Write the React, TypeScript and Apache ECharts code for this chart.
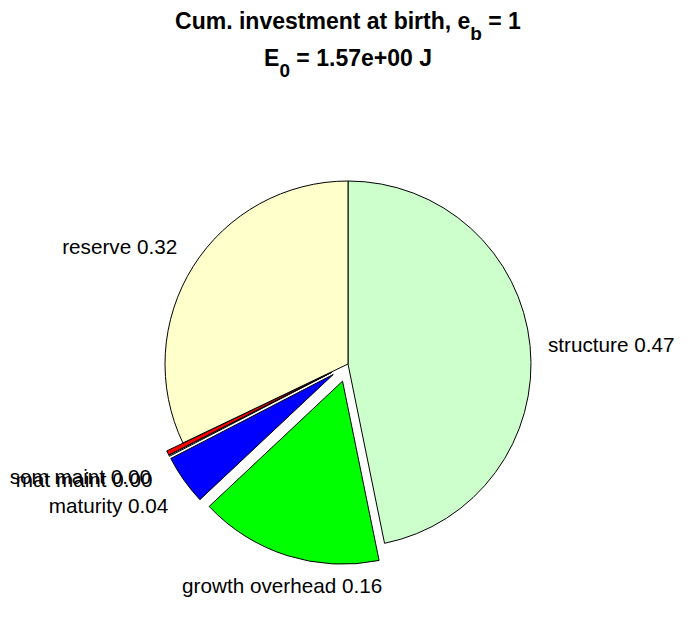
import React, { useEffect, useRef } from "react";
import * as echarts from "echarts";

const categories = ["structure", "growth overhead", "maturity", "mat maint", "som maint", "reserve"];
const fractions = [0.468, 0.162, 0.044, 0.001, 0.004, 0.321];
const exploded = [false, true, true, true, true, false];
const colors = ["#ccffcc", "#00ff00", "#0000ff", "#ffffff", "#ff0000", "#ffffcc"];
const titleLine1 = ["Cum. investment at birth, e", "b", " = 1"];
const titleLine2 = ["E", "0", " = 1.57e+00 J"];

const FONT = "'Liberation Sans', Arial, Helvetica, sans-serif";

export default function App() {
  const ref = useRef<HTMLDivElement>(null);
  useEffect(() => {
    if (!ref.current) return;
    const chart = echarts.init(ref.current, null, { renderer: "svg" });
    const total = fractions.reduce((a, b) => a + b, 0);
    let acc = 0;
    const midAngles = fractions.map((f) => {
      const m = ((acc + f / 2) / total) * 2 * Math.PI;
      acc += f;
      return m; // clockwise from 12 o'clock
    });
    const rich = {
      a: { fontSize: 23, fontWeight: "bold", color: "#000", fontFamily: FONT, lineHeight: 23 },
      s: { fontSize: 19, fontWeight: "bold", color: "#000", fontFamily: FONT, lineHeight: 19, padding: [25, 0, 0, 0] },
    };
    chart.setOption({
      animation: false,
      backgroundColor: "#ffffff",
      title: [
        {
          text: `{a|${titleLine1[0]}}{s|${titleLine1[1]}}{a|${titleLine1[2]}}`,
          left: "center",
          top: 9,
          padding: 0,
          textStyle: { rich },
        },
        {
          text: `{a|${titleLine2[0]}}{s|${titleLine2[1]}}{a|${titleLine2[2]}}`,
          left: "center",
          top: 46,
          padding: 0,
          textStyle: { rich },
        },
      ],
      series: [
        {
          type: "pie",
          center: [348, 364],
          radius: 183,
          startAngle: 90,
          clockwise: true,
          avoidLabelOverlap: false,
          selectedMode: "multiple",
          selectedOffset: 18,
          emphasis: { disabled: true },
          itemStyle: { borderColor: "#000", borderWidth: 1 },
          label: {
            show: true,
            position: "outside",
            color: "#000",
            fontSize: 20.7,
            fontFamily: FONT,
            formatter: (p: any) => `${p.name} ${Number(p.value).toFixed(2)}`,
          },
          labelLine: { show: false, length: 13, length2: 0 },
          labelLayout: (p: any) => {
            const a = midAngles[p.dataIndex];
            const c = Math.cos(a);
            const s = Math.sin(a);
            const h = p.labelRect.height;
            const res: any = {};
            if (c > 0.3) res.dy = -0.62 * h;
            else if (c < -0.3) res.dy = 0.85 * h;
            if (Math.abs(s) < 0.4) {
              res.align = "center";
              res.dx = 4;
            }
            return res;
          },
          data: categories.map((name, i) => ({
            name,
            value: fractions[i],
            selected: exploded[i],
            itemStyle: { color: colors[i] },
          })),
        },
      ],
    });
    return () => chart.dispose();
  }, []);
  return (
    <div
      ref={ref}
      style={{ position: "fixed", left: 0, top: 0, width: 696, height: 618, background: "#fff" }}
    />
  );
}
